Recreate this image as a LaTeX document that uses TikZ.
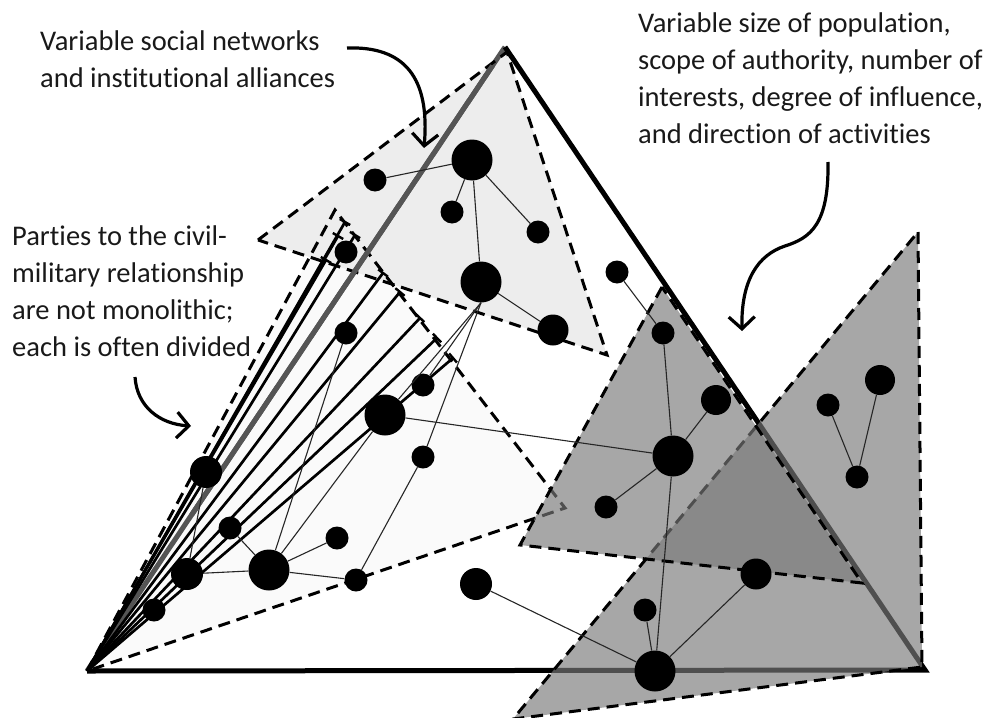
\documentclass[tikz,border=0pt]{standalone}
\usepackage{fontspec}
\setmainfont{Carlito}[Ligatures=NoCommon]
\usetikzlibrary{arrows.meta,calc}
\pgfdeclarelayer{bg}
\pgfdeclarelayer{mid}
\pgfsetlayers{bg,mid,main}
\definecolor{lightfill}{HTML}{EDEDED}
\definecolor{paler}{HTML}{FAFAFA}
\definecolor{darkfill}{HTML}{797979}
\definecolor{edgegray}{HTML}{555555}
\begin{document}
\begin{tikzpicture}[x=1pt,y=-1pt,
  dot/.style={circle,fill=black,draw=none,inner sep=0pt,minimum size=#1},
  link/.style={line width=1.1pt,black!85},
  dsh/.style={line width=3pt,dash pattern=on 12pt off 7pt},
  mainedge/.style={line width=5pt,line join=miter},
  hatch/.style={line width=2.7pt},
  darktri/.style={fill=darkfill,fill opacity=0.66},
  txt/.style={font=\fontsize{28.5}{37}\selectfont,align=left,inner sep=0pt,text=black!90},
  arr/.style={line width=3.2pt,-{Straight Barb[length=12pt,width=26pt,line width=3.2pt]}}]
\useasboundingbox (0,0) rectangle (992,717);

% key points
\coordinate (A) at (87,671);
\coordinate (B) at (505,47);
\coordinate (C) at (925,670);
\coordinate (tl1) at (258,240);
\coordinate (tl2) at (507,52);
\coordinate (tl3) at (607,355);
\coordinate (lt2) at (335,210);
\coordinate (lt3) at (565,508);
\coordinate (d1a) at (662,287);
\coordinate (d1b) at (520,545);
\coordinate (d1c) at (862,583);
\coordinate (d2a) at (918,232);
\coordinate (d2b) at (922,667);
\coordinate (d2c) at (513,719);

\begin{pgfonlayer}{bg}
  % pale left triangle and light top triangle fills
  \fill[paler] (A) -- (lt2) -- (lt3) -- cycle;
  \fill[lightfill] (tl1) -- (tl2) -- (tl3) -- cycle;
  % main triangle
  \draw[mainedge,edgegray] (A) -- (B);
  \draw[mainedge,black] (B) -- (C) -- (A);
  % dashed outlines
  \draw[dsh] (A) -- (lt2) -- (lt3) -- cycle;
  \draw[dsh] (tl1) -- (tl2) -- (tl3) -- cycle;
  % hatch lines of the divided party
  \foreach \ex/\ey in {326/260,338/236,345/222,355/235,383/273,400/292,420/318,437/338,453/358}{
    \draw[hatch] (A) -- (\ex,\ey);
    \draw[line width=2.4pt] ($(\ex,\ey)!6pt!90:(A)$) -- ($(\ex,\ey)!6pt!-90:(A)$);
  }
  \draw[mainedge,edgegray] ($(A)!0.25!(B)$) -- ($(A)!0.97!(B)$);
\end{pgfonlayer}

\begin{pgfonlayer}{mid}
  \fill[darktri] (d2a) -- (d2b) -- (d2c) -- cycle;
  \draw[dsh] (d2a) -- (d2b) -- (d2c) -- cycle;
  \fill[darktri] (d1a) -- (d1b) -- (d1c) -- cycle;
  \draw[dsh] (d1a) -- (d1b) -- (d1c) -- cycle;
\end{pgfonlayer}

% network nodes
\node[dot=41pt] (n1) at (472,160) {};
\node[dot=23pt] (n2) at (375,180) {};
\node[dot=23pt] (n3) at (452,212) {};
\node[dot=23pt] (n4) at (538,232) {};
\node[dot=41pt] (n5) at (481,282) {};
\node[dot=31pt] (n6) at (553,330) {};
\node[dot=23pt] (n7) at (346,252) {};
\node[dot=23pt] (n8) at (617,272) {};
\node[dot=23pt] (n9) at (663,333) {};
\node[dot=41pt] (n10) at (673,456) {};
\node[dot=30pt] (n11) at (716,400) {};
\node[dot=23pt] (n12) at (606,507) {};
\node[dot=31pt] (n13) at (756,574) {};
\node[dot=41pt] (n14) at (655,671) {};
\node[dot=23pt] (n15) at (645,610) {};
\node[dot=41pt] (n16) at (385,415) {};
\node[dot=32pt] (n17) at (476,584) {};
\node[dot=30pt] (n18) at (880,380) {};
\node[dot=23pt] (n19) at (828,405) {};
\node[dot=23pt] (n20) at (857,477) {};
\node[dot=23pt] (n21) at (423,385) {};
\node[dot=23pt] (n22) at (423,457) {};
\node[dot=23pt] (n23) at (346,333) {};
\node[dot=32pt] (n24) at (206,472) {};
\node[dot=23pt] (n25) at (230,528) {};
\node[dot=41pt] (n26) at (269,570) {};
\node[dot=32pt] (n27) at (187,574) {};
\node[dot=23pt] (n28) at (337,538) {};
\node[dot=23pt] (n29) at (356,580) {};
\node[dot=23pt] (n30) at (154,610) {};

% links
\draw[link] (n1) -- (n2);
\draw[link] (n1) -- (n3);
\draw[link] (n1) -- (n4);
\draw[link] (n1) -- (n5);
\draw[link] (n5) -- (n6);
\draw[link] (n5.south) -- (n16);
\draw[link] (n5.south) -- (n21);
\draw[link] (n5.south) -- (n22);
\draw[link] (n8) -- (n9);
\draw[link] (n9) -- (n10);
\draw[link] (n10) -- (n11);
\draw[link] (n10) -- (n12);
\draw[link] (n10) -- (n14);
\draw[link] (n16) -- (n10);
\draw[link] (n14) -- (n13);
\draw[link] (n14) -- (n15);
\draw[link] (n14) -- (n17);
\draw[link] (n19) -- (n20);
\draw[link] (n18) -- (n20);
\draw[link] (n16) -- (n26);
\draw[link] (n23) -- (n26);
\draw[link] (n25) -- (n26);
\draw[link] (n27) -- (n26);
\draw[link] (n26) -- (n28);
\draw[link] (n26) -- (n29);
\draw[link] (n29) -- (n22);
\draw[link] (n24) -- (n27);

% texts
\node[txt,anchor=north west] (t1) at (40,31) {Variable social networks\\and institutional alliances};
\node[txt,anchor=north west] (t2) at (12,226) {Parties to the civil-\\military relationship\\are not monolithic;\\each is often divided};
\node[txt,anchor=north west] (t3) at (638,13) {Variable size of population,\\scope of authority, number of\\interests, degree of influence,\\and direction of activities};

% arrows
\coordinate (a1s) at (347,48);
\coordinate (a1e) at (424,148);
\draw[arr] (a1s) .. controls (405,46) and (430,78) .. (a1e);
\coordinate (a2s) at (135,377);
\coordinate (a2e) at (191,426);
\draw[arr] (a2s) .. controls (137,407) and (160,424) .. (a2e);
\coordinate (a3s) at (828,162);
\coordinate (a3m) at (785,246);
\coordinate (a3e) at (742,331);
\draw[arr] (a3s) .. controls (829,225) and (810,238) .. (a3m) .. controls (758,255) and (741,280) .. (a3e);
\end{tikzpicture}
\end{document}
